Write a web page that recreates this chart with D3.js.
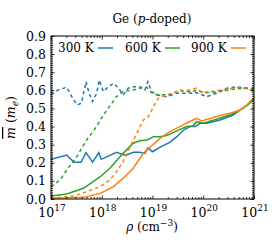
<!DOCTYPE html>
<html>
<head>
<meta charset="utf-8">
<script src="https://cdn.jsdelivr.net/npm/d3@7"></script>
<style>
  body { margin: 0; background: #fff; }
</style>
</head>
<body>
<div id="chart"></div>
<script>
// data: log10 of carrier density and mean effective mass (m_e)
const blueSolidX = [17.00,17.31,17.45,17.59,17.69,17.82,17.94,17.99,18.14,18.29,18.47,18.62,18.75,18.85,18.91,19.00,19.15,19.34,19.48,19.61,19.74,19.84,19.94,20.07,20.19,20.33,20.46,20.59,20.72,20.86,20.99];
const blueSolidY = [0.219,0.243,0.203,0.203,0.256,0.203,0.256,0.219,0.238,0.258,0.241,0.258,0.258,0.252,0.282,0.261,0.286,0.313,0.344,0.381,0.400,0.400,0.418,0.418,0.427,0.436,0.450,0.464,0.490,0.519,0.547];

const greenSolidX = [17.00,17.31,17.64,17.97,18.16,18.42,18.62,18.75,18.89,19.02,19.15,19.28,19.48,19.67,19.80,19.87,20.00,20.26,20.53,20.72,20.86,20.99];
const greenSolidY = [0.017,0.028,0.059,0.123,0.170,0.252,0.308,0.322,0.326,0.344,0.344,0.350,0.376,0.400,0.403,0.427,0.418,0.440,0.464,0.490,0.515,0.547];

const orangeSolidX = [17.00,17.64,17.97,18.23,18.42,18.62,18.82,18.98,19.15,19.34,19.54,19.67,19.80,19.87,19.97,20.26,20.53,20.72,20.86,20.92,20.99];
const orangeSolidY = [0.004,0.009,0.031,0.068,0.114,0.170,0.252,0.293,0.335,0.372,0.400,0.418,0.436,0.446,0.431,0.455,0.473,0.490,0.519,0.538,0.556];

const blueDashX = [17.00,17.14,17.31,17.41,17.51,17.60,17.69,17.75,17.82,17.90,17.95,18.03,18.10,18.23,18.33,18.42,18.52,18.62,18.75,18.85,18.91,18.98,19.08,19.28,19.48,19.67,19.87,20.07,20.26,20.46,20.66,20.86,20.99];
const blueDashY = [0.575,0.602,0.617,0.565,0.519,0.529,0.648,0.584,0.538,0.584,0.657,0.593,0.612,0.639,0.612,0.575,0.612,0.620,0.620,0.602,0.648,0.593,0.575,0.565,0.584,0.584,0.587,0.565,0.584,0.612,0.620,0.612,0.602];

const greenDashX = [17.00,17.18,17.31,17.51,17.70,17.90,17.97,18.10,18.29,18.42,18.62,18.75,18.89,18.98,19.08,19.34,19.54,19.67,19.87,20.07,20.33,20.59,20.86,20.99];
const greenDashY = [0.068,0.105,0.160,0.234,0.326,0.400,0.436,0.490,0.565,0.593,0.602,0.612,0.617,0.587,0.575,0.575,0.602,0.593,0.598,0.587,0.593,0.606,0.612,0.612];

const orangeDashX = [17.00,17.45,17.70,17.97,18.16,18.29,18.42,18.56,18.69,18.82,18.92,19.02,19.11,19.28,19.48,19.67,19.87,19.97,20.13,20.46,20.72,20.99];
const orangeDashY = [0.004,0.017,0.040,0.068,0.105,0.151,0.206,0.289,0.363,0.436,0.455,0.510,0.556,0.575,0.593,0.598,0.612,0.587,0.593,0.606,0.617,0.598];

const legendLabels = ['300 K', '600 K', '900 K'];
const colors = ['#1f77b4', '#2ca02c', '#ff7f0e'];
const xTickExps = [17, 18, 19, 20, 21];
const yTicks = [0.0, 0.1, 0.2, 0.3, 0.4, 0.5, 0.6, 0.7, 0.8, 0.9];

const w = 274, h = 240;
const padL = 51, padR = 254, padT = 36, padB = 199;
const serif = "'DejaVu Serif', serif";

const svg = d3.select('#chart').append('svg')
    .attr('width', w).attr('height', h)
    .attr('font-family', serif);

const xScale = d3.scaleLog().domain([1e17, 1e21]).range([padL, padR]);
const yScale = d3.scaleLinear().domain([0, 0.9]).range([padB, padT]);

// series
const series = [
    {x: blueDashX, y: blueDashY, c: 0, dash: true},
    {x: blueSolidX, y: blueSolidY, c: 0, dash: false},
    {x: greenDashX, y: greenDashY, c: 1, dash: true},
    {x: greenSolidX, y: greenSolidY, c: 1, dash: false},
    {x: orangeDashX, y: orangeDashY, c: 2, dash: true},
    {x: orangeSolidX, y: orangeSolidY, c: 2, dash: false}
];

const line = d3.line()
    .x(d => xScale(Math.pow(10, d[0])))
    .y(d => yScale(d[1]));

const plot = svg.append('g');
plot.append('clipPath').attr('id', 'clip')
    .append('rect').attr('x', padL).attr('y', padT)
    .attr('width', padR - padL).attr('height', padB - padT);

series.forEach(s => {
    plot.append('path')
        .datum(s.x.map((v, i) => [v, s.y[i]]))
        .attr('clip-path', 'url(#clip)')
        .attr('fill', 'none')
        .attr('stroke', colors[s.c])
        .attr('stroke-width', 1.5)
        .attr('stroke-dasharray', s.dash ? '3.5,3' : null)
        .attr('d', line);
});

// axes (ticks inside, on all four sides)
const minorX = [];
for (let e = 17; e < 21; e++) for (let k = 2; k < 10; k++) minorX.push(k * Math.pow(10, e));
const minorY = d3.range(0, 0.9001, 0.01);

const xAxisB = d3.axisBottom(xScale).tickValues(xTickExps.map(e => Math.pow(10, e))).tickSize(-3.5).tickFormat('');
const xAxisBm = d3.axisBottom(xScale).tickValues(minorX).tickSize(-2).tickFormat('');
const xAxisT = d3.axisTop(xScale).tickValues(xTickExps.map(e => Math.pow(10, e))).tickSize(-3.5).tickFormat('');
const xAxisTm = d3.axisTop(xScale).tickValues(minorX).tickSize(-2).tickFormat('');
const yAxisL = d3.axisLeft(yScale).tickValues(yTicks).tickSize(-3.5).tickFormat('');
const yAxisLm = d3.axisLeft(yScale).tickValues(minorY).tickSize(-2).tickFormat('');
const yAxisR = d3.axisRight(yScale).tickValues(yTicks).tickSize(-3.5).tickFormat('');
const yAxisRm = d3.axisRight(yScale).tickValues(minorY).tickSize(-2).tickFormat('');

[[xAxisB, 0, padB], [xAxisBm, 0, padB], [xAxisT, 0, padT], [xAxisTm, 0, padT],
 [yAxisL, padL, 0], [yAxisLm, padL, 0], [yAxisR, padR, 0], [yAxisRm, padR, 0]].forEach(a => {
    const g = svg.append('g')
        .attr('transform', 'translate(' + a[1] + ',' + a[2] + ')')
        .call(a[0]);
    g.select('.domain').remove();
    g.selectAll('line').attr('stroke', '#000').attr('stroke-width', 0.8);
});

svg.append('rect')
    .attr('x', padL).attr('y', padT)
    .attr('width', padR - padL).attr('height', padB - padT)
    .attr('fill', 'none').attr('stroke', '#000').attr('stroke-width', 1);

// tick labels
svg.selectAll('.ylab')
    .data(yTicks)
    .enter()
    .append('text')
    .attr('class', 'ylab')
    .attr('x', padL - 5)
    .attr('y', d => yScale(d) + 4.5)
    .attr('text-anchor', 'end')
    .attr('font-size', 12.5)
    .text(d => d.toFixed(1));

xTickExps.forEach(e => {
    const t = svg.append('text')
        .attr('x', xScale(Math.pow(10, e)) + 1)
        .attr('y', 217)
        .attr('text-anchor', 'middle')
        .attr('font-size', 12.5);
    t.append('tspan').text('10');
    t.append('tspan').attr('dy', -6).attr('font-size', 9).text(e);
});

// title and axis labels
const title = svg.append('text')
    .attr('x', 152).attr('y', 23)
    .attr('text-anchor', 'middle')
    .attr('font-size', 12);
title.append('tspan').text('Ge (');
title.append('tspan').attr('font-style', 'italic').text('p');
title.append('tspan').text('-doped)');

const xl = svg.append('text')
    .attr('x', 152).attr('y', 231)
    .attr('text-anchor', 'middle')
    .attr('font-size', 12);
xl.append('tspan').attr('font-style', 'italic').text('ρ');
xl.append('tspan').text(' (cm');
xl.append('tspan').attr('dy', -5).attr('font-size', 9).text('−3');
xl.append('tspan').attr('dy', 5).text(')');

const yl = svg.append('text')
    .attr('transform', 'translate(15,' + ((padT + padB) / 2) + ') rotate(-90)')
    .attr('text-anchor', 'middle')
    .attr('font-size', 12.5);
yl.append('tspan').attr('font-style', 'italic').attr('text-decoration', 'overline').text('m');
yl.append('tspan').text(' (');
yl.append('tspan').attr('font-style', 'italic').text('m');
yl.append('tspan').attr('dy', 3).attr('font-size', 9).attr('font-style', 'italic').text('e');
yl.append('tspan').attr('dy', -3).text(')');

// legend: label then line sample
const legendX = [58, 125, 191];
legendLabels.forEach((lab, i) => {
    svg.append('text')
        .attr('x', legendX[i]).attr('y', 52)
        .attr('font-size', 12)
        .text(lab);
    svg.append('line')
        .attr('x1', legendX[i] + 40).attr('x2', legendX[i] + 55)
        .attr('y1', 48).attr('y2', 48)
        .attr('stroke', colors[i]).attr('stroke-width', 1.5);
});
</script>
</body>
</html>
